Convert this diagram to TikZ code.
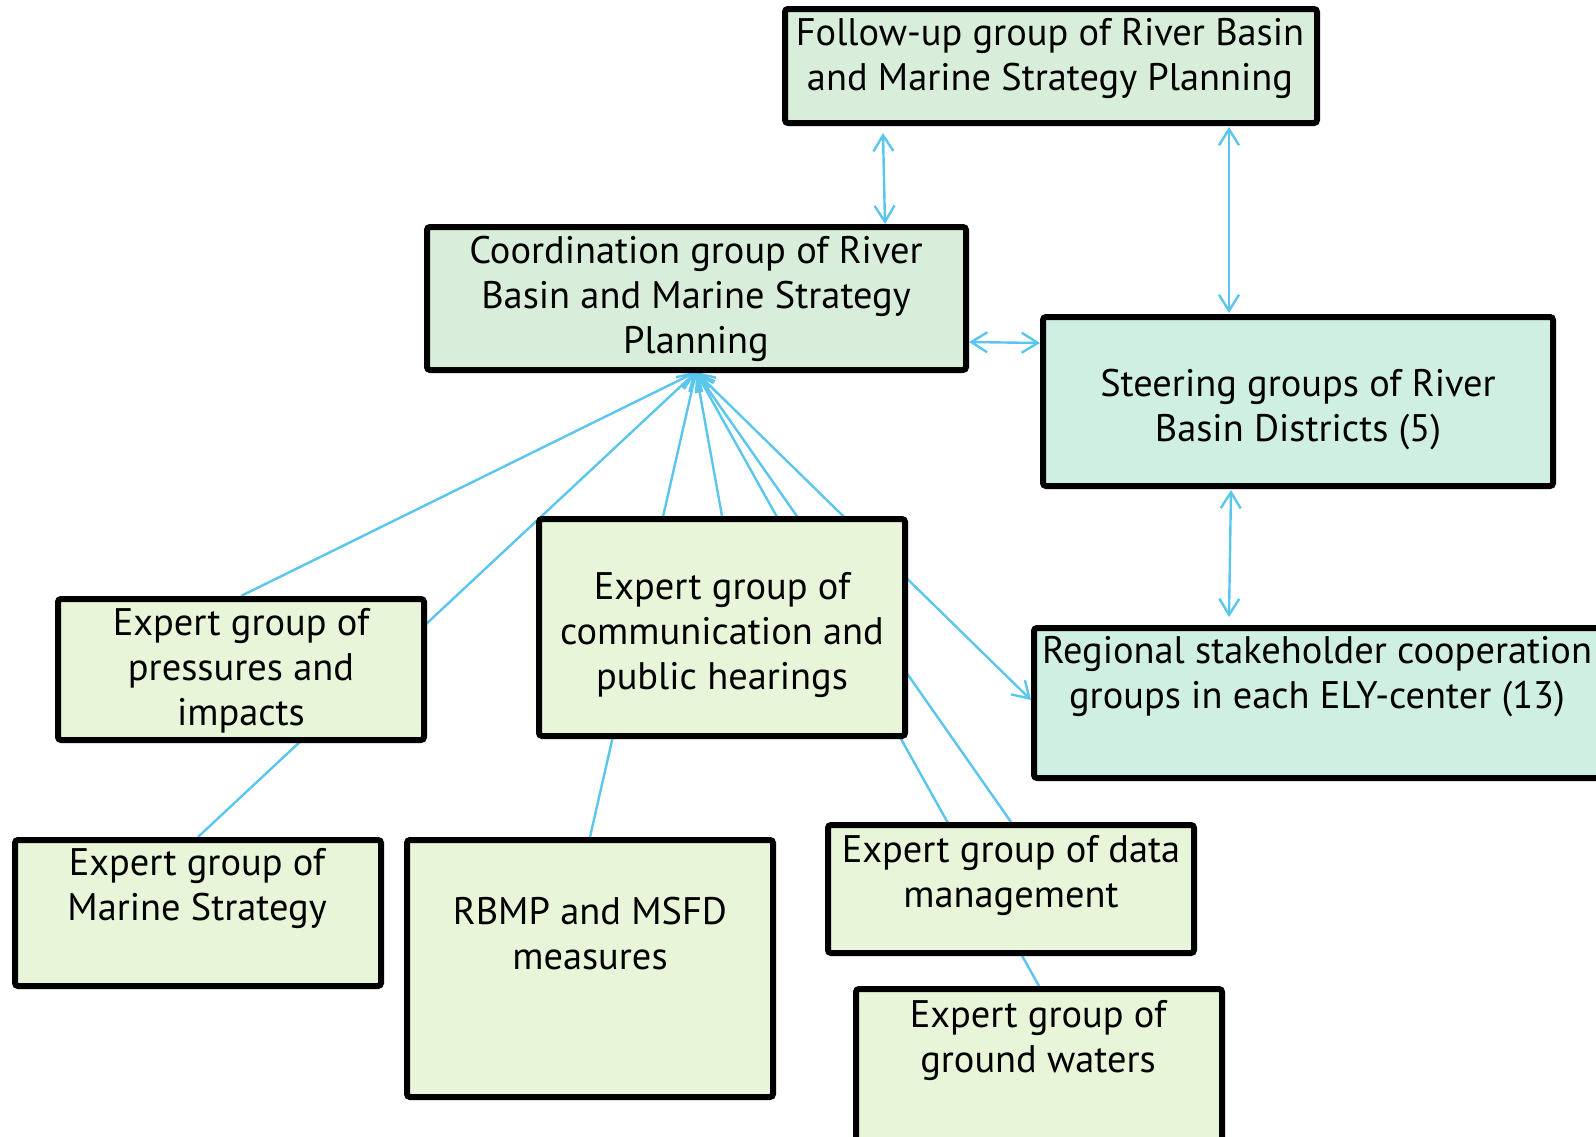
\documentclass[tikz,border=0pt]{standalone}
\usepackage{fontspec}
\setmainfont{PT Sans}
\usetikzlibrary{arrows.meta,calc,backgrounds}
\definecolor{linkblue}{RGB}{90,198,238}
\definecolor{planfill}{RGB}{216,238,218}
\definecolor{steerfill}{RGB}{208,239,227}
\definecolor{expertfill}{RGB}{232,245,217}

\begin{document}
\begin{tikzpicture}[x=0.5pt,y=-0.5pt,
  box/.style={draw=black, line width=3pt, rounded corners=1.5pt, inner sep=0pt, anchor=north west},
  plan/.style={box, fill=planfill},
  steerbox/.style={box, fill=steerfill},
  expert/.style={box, fill=expertfill, minimum width=183pt},
  boxtext/.style={align=center, font=\fontsize{19.2}{22.5}\selectfont, inner sep=0pt},
  link/.style={draw=linkblue, line width=1.2pt},
  twoway/.style={link, {Straight Barb[length=8pt,width=10pt]}-{Straight Barb[length=8pt,width=10pt]}},
  oneway/.style={link, -{Straight Barb[length=8pt,width=10pt]}}
]
\useasboundingbox (0,0) rectangle (1596,1136);

% boxes (placed by their outer top-left corner)
\node[plan, minimum width=266pt, minimum height=57pt] (followup) at (782,6) {};
\node[plan, minimum width=269.5pt, minimum height=71.5pt] (coord) at (424,224) {};
\node[steerbox, minimum width=255pt, minimum height=84.5pt] (steer) at (1040,314) {};
\node[steerbox, minimum width=285pt, minimum height=75pt] (regional) at (1031,625) {};
\node[expert, minimum height=108.5pt] (comm) at (536,516) {};
\node[expert, minimum height=70.5pt] (pressures) at (55,596) {};
\node[expert, minimum height=73pt] (marine) at (12,837) {};
\node[expert, minimum height=128.5pt] (rbmp) at (404,837) {};
\node[expert, minimum height=64pt] (data) at (825,822) {};
\node[expert, minimum height=82pt] (ground) at (853,986) {};

% box texts
\node[boxtext] (followup-t) at (1050,58) {Follow-up group of River Basin\\and Marine Strategy Planning};
\node[boxtext] (coord-t) at (696,299) {Coordination group of River\\Basin and Marine Strategy\\Planning};
\node[boxtext] (steer-t) at (1298,410) {Steering groups of River\\Basin Districts (5)};
\node[boxtext] (regional-t) at (1317,677) {Regional stakeholder cooperation\\groups in each ELY-center (13)};
\node[boxtext] (comm-t) at (722,635) {Expert group of\\communication and\\public hearings};
\node[boxtext] (pressures-t) at (241,671) {Expert group of\\pressures and\\impacts};
\node[boxtext] (marine-t) at (197,889) {Expert group of\\Marine Strategy};
\node[boxtext] (rbmp-t) at (590,934) {RBMP and MSFD\\measures};
\node[boxtext] (data-t) at (1011,876) {Expert group of data\\management};
\node[boxtext] (ground-t) at (1038,1040) {Expert group of\\ground waters};

% connectors, kept behind the boxes
\coordinate (hub) at ($(coord.south west)+(272,-1)$);
\begin{scope}[on background layer]
  \draw[twoway] ($(followup.south west)+(101,7)$) -- ($(coord.north west)+(461,0)$);
  \draw[twoway] ($(followup.south west)+(447,1)$) -- ($(steer.north west)+(189,-1)$);
  \draw[twoway] ($(coord.north east)+(0,118)$) -- ($(steer.north west)+(0,29)$);
  \draw[twoway] ($(steer.south west)+(191,1)$) -- ($(regional.north west)+(198,-8)$);
  \draw[oneway] (pressures.north) -- (hub);
  \draw[oneway] (marine.north) -- (hub);
  \draw[oneway] (rbmp.north) -- (hub);
  \draw[oneway] (comm.north) -- (hub);
  \draw[oneway] (data.north) -- (hub);
  \draw[oneway] (ground.north) -- (hub);
  \draw[twoway] ($(regional.west)+(0,-3)$) -- (hub);
\end{scope}
\end{tikzpicture}
\end{document}
